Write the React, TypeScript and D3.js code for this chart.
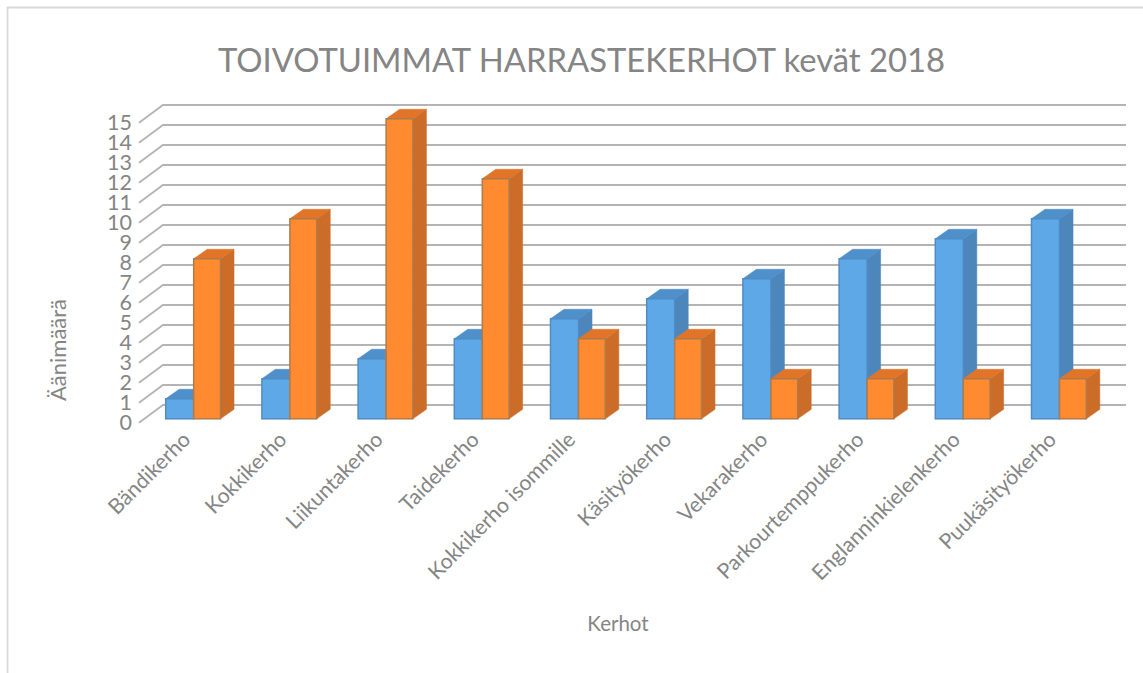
import React from "react";
import * as d3 from "d3";

const categories = ["Bändikerho","Kokkikerho","Liikuntakerho","Taidekerho","Kokkikerho isommille","Käsityökerho","Vekarakerho","Parkourtemppukerho","Englanninkielenkerho","Puukäsityökerho"];
const blueValues = [1,2,3,4,5,6,7,8,9,10];
const orangeValues = [8,10,15,12,4,4,2,2,2,2];
const ticks = d3.range(0, 16);
const titleText = "TOIVOTUIMMAT HARRASTEKERHOT kevät 2018";
const yTitle = "Äänimäärä";
const xTitle = "Kerhot";

const FONT = "Lato, 'Open Sans', sans-serif";
const GREY = "#858585";
const W = 1143, H = 673;
const DX = 13.5, DY = 9.5;

const x = d3.scaleBand<string>().domain(categories).range([141.7, 1103.7]).paddingInner(0).paddingOuter(0);
const y = d3.scaleLinear().domain([0, 15]).range([418.8, 118.8]);

function Bar({ x0, w, v, front, side, top, stroke }: any) {
  const yt = y(v), yb = y(0);
  return (
    <g>
      <polygon points={`${x0 + w},${yt} ${x0 + w + DX},${yt - DY} ${x0 + w + DX},${yb - DY} ${x0 + w},${yb}`} fill={side} stroke={side} strokeWidth={0.6} />
      <polygon points={`${x0},${yt} ${x0 + DX},${yt - DY} ${x0 + w + DX},${yt - DY} ${x0 + w},${yt}`} fill={top} stroke={top} strokeWidth={0.6} />
      <rect x={x0} y={yt} width={w} height={yb - yt} fill={front} stroke={stroke} strokeWidth={1.5} />
    </g>
  );
}

export default function App() {
  const band = x.bandwidth();
  return (
    <svg width={W} height={H} viewBox={`0 0 ${W} ${H}`} style={{ position: "absolute", left: 0, top: 0, background: "#fff", fontFamily: FONT }}>
      <path d={`M7.5,${H} V7.5 H${W}`} fill="none" stroke="#d9d9d9" strokeWidth={1.8} />
      <text x={581.5} y={72} textAnchor="middle" fontSize={32.8} fill={GREY}>{titleText}</text>

      {ticks.map((t) => (
        <polyline key={t} points={`139,${y(t) + 4} 163,${y(t) - 13.8} 1126,${y(t) - 13.8}`} fill="none" stroke="#b4b4b4" strokeWidth={1.8} />
      ))}
      {ticks.map((t) => (
        <text key={t} x={132} y={y(t) + 11.5} textAnchor="end" fontSize={21.5} fill={GREY}>{t}</text>
      ))}

      {categories.map((c, i) => {
        const x0 = (x(c) as number) + 24;
        return (
          <g key={c}>
            <Bar x0={x0} w={28} v={blueValues[i]} front="#5fa8e8" side="#4d86bb" top="#5090ca" stroke="#4f8cc3" />
            <Bar x0={x0 + 28} w={26.8} v={orangeValues[i]} front="#ff8a30" side="#cb6d28" top="#e0752a" stroke="#b07a4a" />
          </g>
        );
      })}

      {categories.map((c) => {
        const lx = (x(c) as number) + band / 2 + 2;
        return (
          <text key={c} transform={`translate(${lx},441) rotate(-45)`} textAnchor="end" fontSize={21.2} fill={GREY}>{c}</text>
        );
      })}

      <text transform="translate(66,350) rotate(-90)" textAnchor="middle" fontSize={22} fill={GREY}>{yTitle}</text>
      <text x={618} y={631} textAnchor="middle" fontSize={20.5} fill={GREY}>{xTitle}</text>
    </svg>
  );
}
